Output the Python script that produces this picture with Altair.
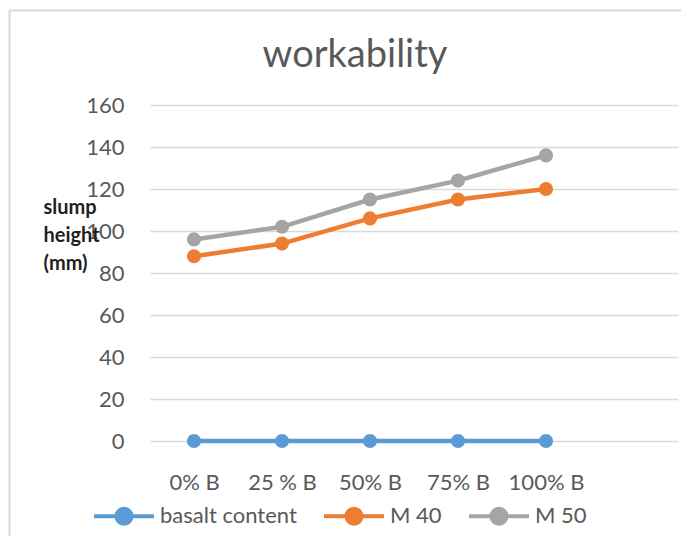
import altair as alt
import pandas as pd

categories = ["0% B", "25 % B", "50% B", "75% B", "100% B"]
series_names = ["basalt content", "M 40", "M 50"]
basalt_content = [0, 0, 0, 0, 0]
m40 = [88, 94, 106, 115, 120]
m50 = [96, 102, 115, 124, 136]
colors = ["#5B9BD5", "#ED7D31", "#A5A5A5"]
y_ticks = [0, 20, 40, 60, 80, 100, 120, 140, 160]
chart_title = "workability"

rows = []
for name, vals in zip(series_names, [basalt_content, m40, m50]):
    for c, v in zip(categories, vals):
        rows.append({"category": c, "series": name, "value": v})
df = pd.DataFrame(rows)

W, H = 528, 336
PAD_L, PAD_T, PAD_R, PAD_B = 142, 97, 3, 95
FONT = "Lato"
GREY = "#595959"
FS = 22

x_enc = alt.X("category:N", sort=categories,
              scale=alt.Scale(domain=categories + [" "], type="point", padding=0.5),
              axis=alt.Axis(title=None, labelAngle=0, domain=False, ticks=False,
                            labelPadding=31, labelFontSize=FS, labelColor=GREY,
                            labelFont=FONT, grid=False))
y_enc = alt.Y("value:Q", scale=alt.Scale(domain=[0, 160], nice=False, zero=True),
              axis=alt.Axis(values=y_ticks, title=["slump", "height", "(mm)"],
                            titleAngle=0, titleAlign="left", titleBaseline="top",
                            titleX=-107, titleY=92, titleLineHeight=28,
                            titleFontSize=20, titleFontWeight="bold", titleFont=FONT,
                            titleColor="#1F1F1F", domain=False, ticks=False,
                            labelPadding=26, labelFontSize=FS, labelColor=GREY,
                            labelFont=FONT, gridColor="#D9D9D9", gridWidth=1.5))
color_enc = alt.Color("series:N", sort=series_names,
                      scale=alt.Scale(domain=series_names, range=colors),
                      legend=alt.Legend(title=None, orient="none", direction="horizontal",
                                        legendX=-58, legendY=379,
                                        symbolType="M-1,0H1M-0.25,0A0.25,0.25,0,1,1,0.25,0A0.25,0.25,0,1,1,-0.25,0Z",
                                        symbolSize=3600, symbolStrokeWidth=4,
                                        labelFontSize=FS, labelFont=FONT, labelColor=GREY,
                                        labelOffset=4, columnPadding=19))

points = alt.Chart(df).mark_circle(size=200, opacity=1).encode(x=x_enc, y=y_enc, color=color_enc)
lines = alt.Chart(df).mark_line(strokeWidth=4.5).encode(x=x_enc, y=y_enc, color=color_enc)

deco = alt.Data(values=[{"t": chart_title}])
border_v = alt.Chart(deco).mark_rule(color="#D9D9D9", strokeWidth=2).encode(
    x=alt.value(-140.5), y=alt.value(-94.5), y2=alt.value(H + PAD_B))
border_h = alt.Chart(deco).mark_rule(color="#D9D9D9", strokeWidth=2).encode(
    x=alt.value(-140.5), x2=alt.value(W + PAD_R), y=alt.value(-94.5))
title = alt.Chart(deco).mark_text(font=FONT, fontSize=38, color=GREY, align="center",
                                  baseline="alphabetic").encode(
    text="t:N", x=alt.value(205), y=alt.value(-38))

chart = alt.layer(border_v, border_h, title, points, lines).properties(
    width=W, height=H,
    autosize=alt.AutoSizeParams(type="none"),
    padding={"left": PAD_L, "top": PAD_T, "right": PAD_R, "bottom": PAD_B},
).configure_view(stroke=None)

chart.save("out.html", embed_options={"renderer": "svg", "actions": False})
